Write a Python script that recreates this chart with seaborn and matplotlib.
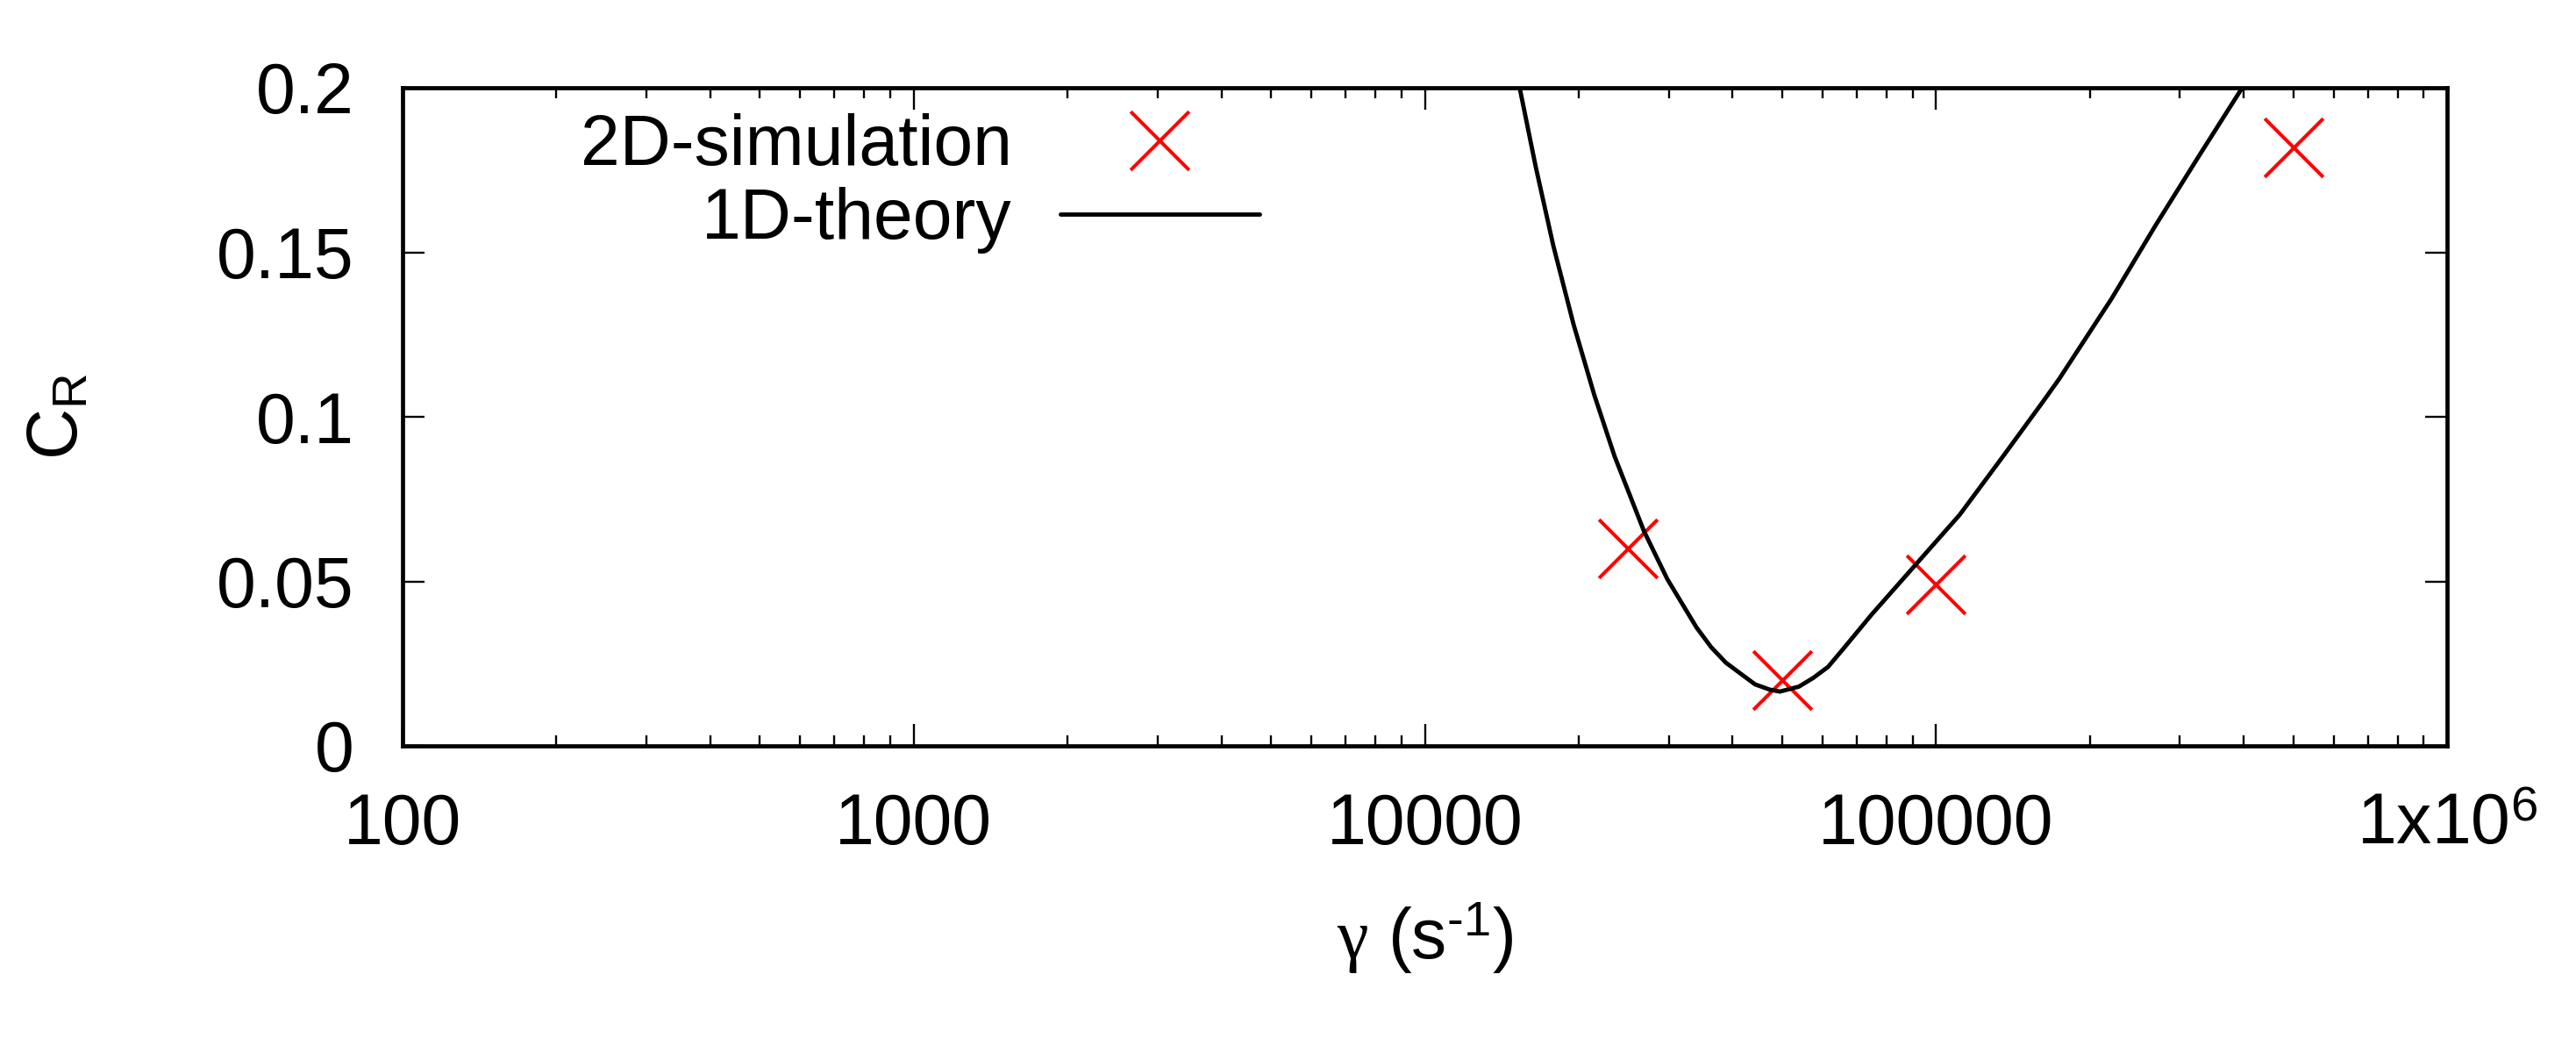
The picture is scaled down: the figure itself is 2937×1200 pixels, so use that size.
import numpy as np
import matplotlib
matplotlib.use("Agg")
import matplotlib.pyplot as plt
import matplotlib.ticker as mticker
import seaborn as sns

# --- DATA --- #
sim_gamma = [25000, 50000, 100000, 500000]
sim_cr = [0.060, 0.020, 0.049, 0.182]

theory_gamma = [15330, 16480, 17840, 19550, 21450, 23510, 26830, 29810, 34000,
                36320, 38800, 44260, 47280, 49500, 53930, 57600, 61500, 65720,
                74930, 91300, 111250, 135600, 160900, 174200, 220800, 269000,
                327700, 394100, 398000]
theory_cr = [0.200, 0.176, 0.152, 0.128, 0.1067, 0.088, 0.0653, 0.0507, 0.036,
             0.030, 0.0253, 0.0187, 0.0171, 0.0165, 0.018, 0.0207, 0.024, 0.0293,
             0.040, 0.0551, 0.0702, 0.0882, 0.104, 0.1115, 0.136, 0.1582,
             0.1795, 0.1991, 0.200]

x_ticks = [100, 1000, 10000, 100000, 1000000]
x_tick_labels = ["100", "1000", "10000", "100000", r"1x10$^{\mathregular{6}}$"]
y_ticks = [0, 0.05, 0.1, 0.15, 0.2]
y_tick_labels = ["0", "0.05", "0.1", "0.15", "0.2"]

# --- STYLE --- #
sns.set_theme(style="ticks")
plt.rcParams["font.family"] = ["Liberation Sans", "DejaVu Sans"]
plt.rcParams["mathtext.fontset"] = "custom"
plt.rcParams["mathtext.rm"] = "Liberation Sans"
plt.rcParams["mathtext.it"] = "Liberation Serif"
plt.rcParams["mathtext.bf"] = "Liberation Sans:bold"
for key in ["text.color", "axes.labelcolor", "xtick.color", "ytick.color", "axes.edgecolor"]:
    plt.rcParams[key] = "black"

FS = 58

fig = plt.figure(figsize=(29.37, 12), dpi=100)
ax = fig.add_axes([459 / 2937, 350 / 1200, 2331 / 2937, 750 / 1200])

# --- PLOTTING --- #
sns.scatterplot(x=sim_gamma, y=sim_cr, marker="x", s=48 ** 2, color="red",
                linewidth=2.9, label="2D-simulation", ax=ax, zorder=3)
sns.lineplot(x=theory_gamma, y=theory_cr, color="black", linewidth=3.5,
             label="1D-theory", ax=ax, zorder=4)

# --- AXES --- #
ax.set_xscale("log")
ax.set_xlim(100, 1e6)
ax.set_ylim(0, 0.2)
ax.set_xticks(x_ticks, x_tick_labels)
ax.xaxis.set_minor_locator(mticker.LogLocator(base=10, subs=np.arange(2, 10), numticks=50))
ax.xaxis.set_minor_formatter(mticker.NullFormatter())
ax.set_yticks(y_ticks, y_tick_labels)

for s in ax.spines.values():
    s.set_linewidth(3.4)
    s.set_color("black")

ax.tick_params(which="both", direction="in", top=True, right=True,
               color="black", width=1.7)
ax.tick_params(which="major", length=18, labelsize=FS, labelcolor="black")
ax.tick_params(which="minor", length=8.5)
ax.tick_params(axis="x", which="major", pad=38)
ax.tick_params(axis="y", which="major", pad=40)

ax.set_xlabel(r"$\gamma$ (s$^{\mathregular{\text{-}1}}$)", fontsize=FS, va="baseline")
ax.xaxis.set_label_coords(0.5, (850 - 1093) / 750)
ax.set_ylabel(r"C$_{\mathregular{R}}$", fontsize=FS, va="center")
ax.yaxis.set_label_coords((67 - 459) / 2331, 0.5)

# --- LEGEND --- #
handles, labels = ax.get_legend_handles_labels()
leg = ax.legend(handles, labels, loc="upper right", bbox_to_anchor=(0.419, 0.961),
                markerfirst=False, frameon=False, fontsize=FS, handlelength=2.82,
                handletextpad=0.68, labelspacing=0.1, borderpad=0, borderaxespad=0,
                scatteryoffsets=[0.5])
for t in leg.get_texts():
    t.set_color("black")

fig.savefig("out.png", dpi=100)
